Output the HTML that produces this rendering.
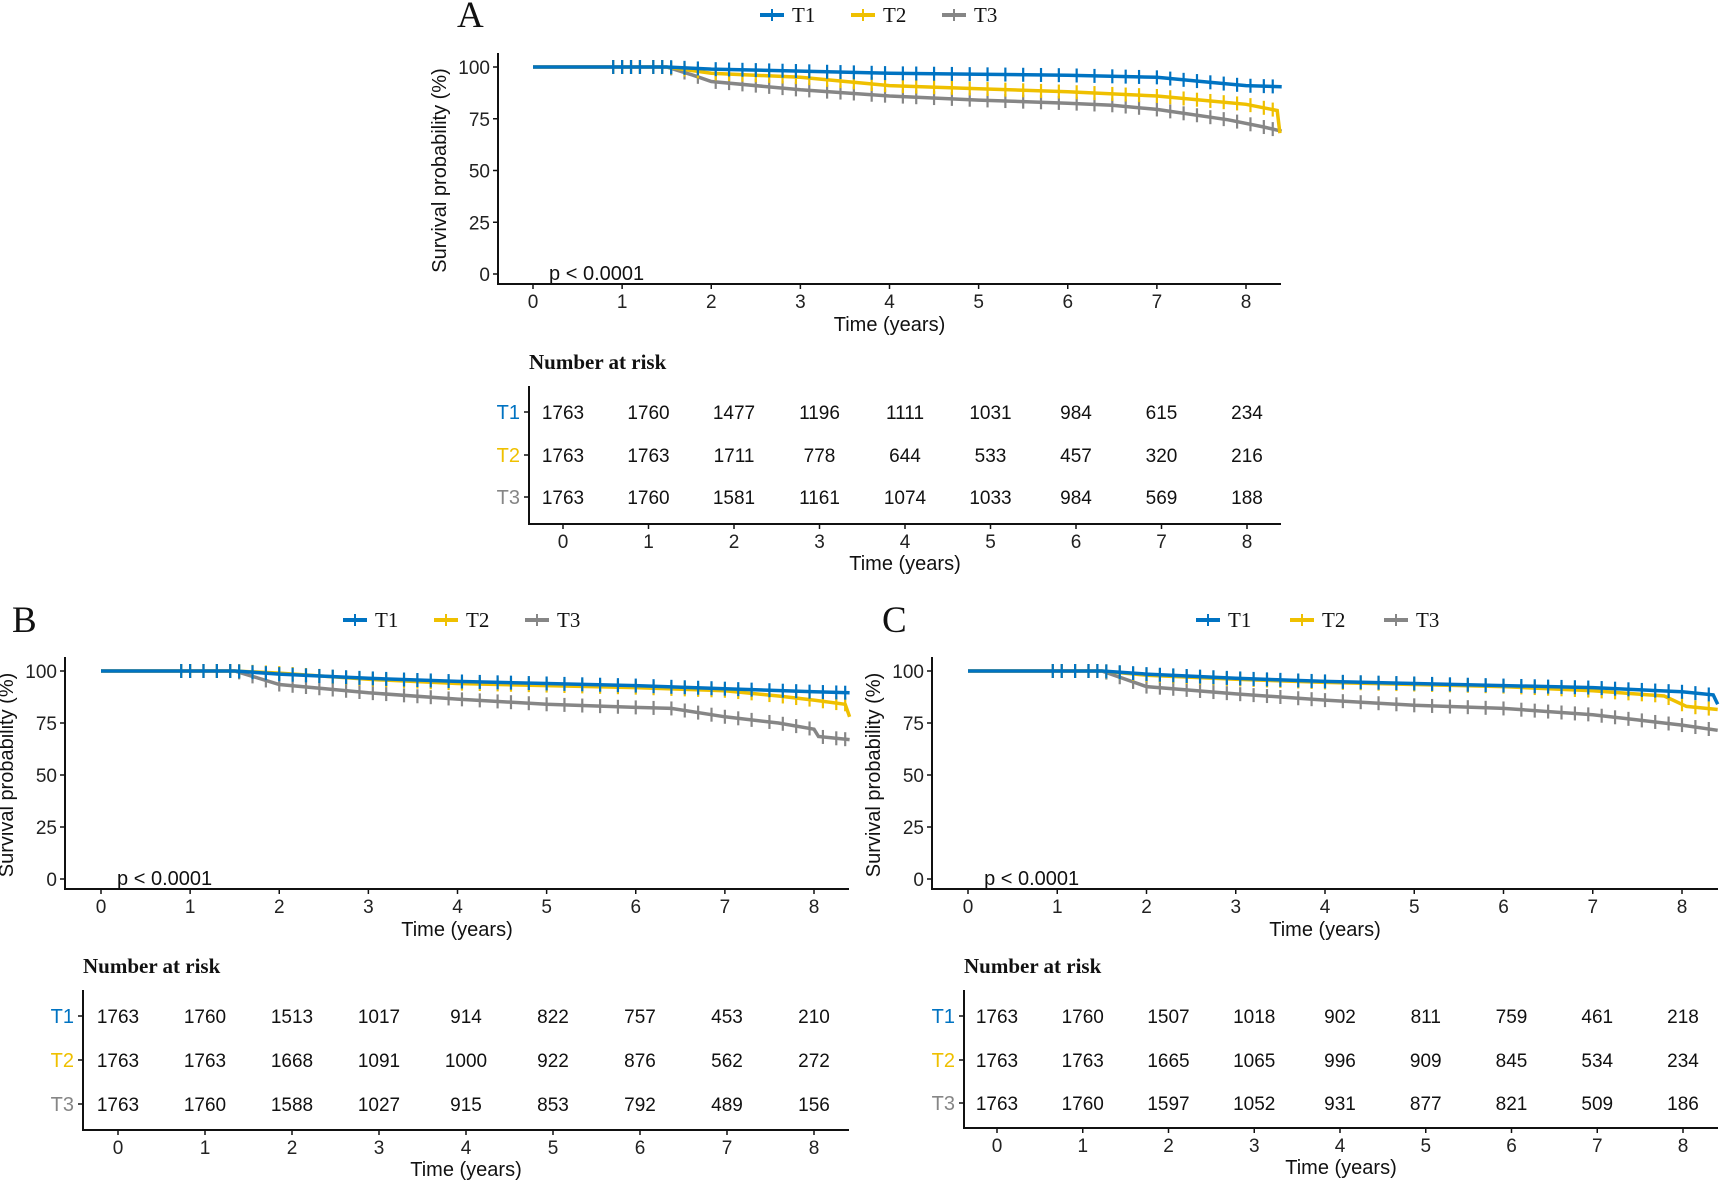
<!DOCTYPE html>
<html><head><meta charset="utf-8"><style>
html,body{margin:0;padding:0;background:#fff;}
svg{display:block;}
.tk{font-family:"Liberation Sans",sans-serif;font-size:19px;fill:#222;}
.tt{font-family:"Liberation Sans",sans-serif;font-size:20px;fill:#111;}
.nm{font-family:"Liberation Sans",sans-serif;font-size:19px;fill:#111;}
.sf{font-family:"Liberation Serif",serif;fill:#111;}
</style></head><body>
<svg id="fig" width="1720" height="1182" viewBox="0 0 1720 1182" xmlns="http://www.w3.org/2000/svg"></svg>
<script>
const groups=["T1","T2","T3"];
const colors=["#0073C2","#EFC000","#868686"];
const xTicks=[0,1,2,3,4,5,6,7,8];
const yTicks=[0,25,50,75,100];
// Panel A
const aT1=[[0,100],[1.5,100],[2,99],[3,98],[4,97],[5,96.5],[6,96],[7,95],[7.5,93],[8,91],[8.4,90.5]];
const aT2=[[0,100],[1.5,100],[2,97],[3,95],[4,91],[5,89.5],[6,88],[7,86],[7.5,84],[8,82],[8.35,79],[8.38,68]];
const aT3=[[0,100],[1.5,100],[1.8,96],[2,93],[3,89],[4,86],[5,84],[6,82.5],[6.5,81.5],[7,79.5],[7.8,74.5],[8.2,71],[8.4,69]];
const aRisk=[[1763,1760,1477,1196,1111,1031,984,615,234],[1763,1763,1711,778,644,533,457,320,216],[1763,1760,1581,1161,1074,1033,984,569,188]];
// Panel B
const bT1=[[0,100],[1.5,100],[2,98.5],[3,96.5],[4,95],[5,94],[6,93],[7,91.5],[8,90],[8.4,89.5]];
const bT2=[[0,100],[1.5,100],[2,99],[3,96],[4,94],[5,93],[6,92],[7,90.5],[7.6,88],[8,86],[8.35,84],[8.4,78]];
const bT3=[[0,100],[1.5,100],[2,93.5],[3,89.5],[4,86.5],[5,84],[6,82.5],[6.4,82],[7,78],[7.6,75],[8,72],[8.05,68.5],[8.4,67]];
const bRisk=[[1763,1760,1513,1017,914,822,757,453,210],[1763,1763,1668,1091,1000,922,876,562,272],[1763,1760,1588,1027,915,853,792,489,156]];
// Panel C
const cT1=[[0,100],[1.5,100],[2,98.5],[3,96.5],[4,95],[5,94],[6,93],[7,92],[8,90],[8.35,88.5],[8.4,84]];
const cT2=[[0,100],[1.5,100],[2,98],[3,96],[4,94.5],[5,93.5],[6,92.5],[7,90.5],[7.8,88],[8.05,83],[8.4,81.5]];
const cT3=[[0,100],[1.5,100],[2,92.5],[3,89],[4,86],[5,83.5],[6,82],[7,79],[7.5,76.5],[8,74],[8.4,71.5]];
const cRisk=[[1763,1760,1507,1018,902,811,759,461,218],[1763,1763,1665,1065,996,909,845,534,234],[1763,1760,1597,1052,931,877,821,509,186]];
// censor times (shared per panel)
const censA=[0.9,1.0,1.1,1.2,1.35,1.45,1.55,1.7,1.85,2.05,2.2,2.35,2.5,2.65,2.8,2.95,3.1,3.3,3.45,3.6,3.8,3.95,4.15,4.3,4.5,4.7,4.9,5.1,5.3,5.5,5.7,5.9,6.1,6.3,6.5,6.65,6.8,7.0,7.15,7.3,7.45,7.6,7.75,7.9,8.05,8.2,8.3];
const censB=[0.9,1.0,1.15,1.3,1.45,1.55,1.7,1.85,2.0,2.15,2.3,2.45,2.6,2.75,2.9,3.05,3.2,3.4,3.55,3.7,3.9,4.05,4.25,4.45,4.6,4.8,5.0,5.2,5.4,5.6,5.8,6.0,6.2,6.4,6.55,6.7,6.85,7.0,7.15,7.3,7.5,7.65,7.8,7.95,8.1,8.25,8.35];
const censC=[0.95,1.05,1.2,1.35,1.45,1.55,1.7,1.85,2.0,2.15,2.3,2.45,2.6,2.75,2.9,3.05,3.2,3.35,3.5,3.7,3.85,4.0,4.2,4.4,4.6,4.8,5.0,5.2,5.4,5.6,5.8,6.0,6.2,6.35,6.5,6.65,6.8,6.95,7.1,7.25,7.4,7.55,7.7,7.85,8.0,8.15,8.3];

const NS="http://www.w3.org/2000/svg";
const svg=document.getElementById('fig');
function mk(tag,attrs,parent,text){const e=document.createElementNS(NS,tag);for(const k in attrs)e.setAttribute(k,attrs[k]);if(text!==undefined)e.textContent=text;(parent||svg).appendChild(e);return e;}
function survAt(curve,t){for(let i=curve.length-1;i>=0;i--){if(curve[i][0]<=t){if(i===curve.length-1)return curve[i][1];const a=curve[i],b=curve[i+1];return a[1]+(b[1]-a[1])*(t-a[0])/(b[0]-a[0]);}}return 100;}

function panel(P,curves,risk,cens){
  const g=mk('g',{});
  
  
  const xs=t=>P.x0+(P.x8-P.x0)*t/8;
  const ys=v=>P.y0+(P.y100-P.y0)*v/100;
  const lab=mk('text',{x:P.labX,y:P.legY+12,class:'sf','font-size':37},g,P.label);
  
  groups.forEach((n,i)=>{
    const lx=P.legX+i*(P.legGap);
    const lg=mk('g',{},g);
    
    
    mk('line',{x1:lx,y1:P.legY,x2:lx+24,y2:P.legY,stroke:colors[i],'stroke-width':4},lg);
    mk('line',{x1:lx+12,y1:P.legY-6,x2:lx+12,y2:P.legY+6,stroke:colors[i],'stroke-width':2},lg);
    mk('text',{x:lx+32,y:P.legY+7,class:'sf','font-size':21},lg,n);
  });
  const ax=mk('path',{d:`M${P.ax},${P.y100-14} V${P.axY} H${P.xend}`,fill:'none',stroke:'#111','stroke-width':2},g);
  
  yTicks.forEach(v=>{
    mk('line',{x1:P.ax-5,y1:ys(v),x2:P.ax,y2:ys(v),stroke:'#111','stroke-width':1.5},g);
    const t=mk('text',{x:P.ax-8,y:ys(v)+7,class:'tk','text-anchor':'end'},g,String(v));
    
  });
  xTicks.forEach(v=>{
    mk('line',{x1:xs(v),y1:P.axY,x2:xs(v),y2:P.axY+5,stroke:'#111','stroke-width':1.5},g);
    const t=mk('text',{x:xs(v),y:P.axY+24,class:'tk','text-anchor':'middle'},g,String(v));
    
  });
  const xt=mk('text',{x:(P.ax+P.xend)/2,y:P.axY+47,class:'tt','text-anchor':'middle'},g,'Time (years)');
  
  const cy=(P.y100+P.y0)/2;
  const yt=mk('text',{x:P.ax-52,y:cy,class:'tt','text-anchor':'middle',transform:`rotate(-90 ${P.ax-52} ${cy})`},g,'Survival probability (%)');
  
  const pv=mk('text',{x:xs(0.18),y:P.y0+6,class:'tt'},g,'p < 0.0001');
  
  [2,1,0].forEach(i=>{
    const c=curves[i];
    const d=c.map((p,k)=>(k?'L':'M')+xs(p[0]).toFixed(1)+','+ys(p[1]).toFixed(1)).join(' ');
    const path=mk('path',{d:d,fill:'none',stroke:colors[i],'stroke-width':3.5},g);
    
    
    const cg=mk('g',{stroke:colors[i],'stroke-width':2.2},g);
    
    
    cens.forEach(t=>{const y=ys(survAt(c,t));mk('line',{x1:xs(t),y1:y-7,x2:xs(t),y2:y+7},cg);});
  });
  const T=P.t;
  const tx=t=>T.c0+(T.c8-T.c0)*t/8;
  const nt=mk('text',{x:T.ax,y:T.titleY,class:'sf','font-size':21,'font-weight':'bold'},g,'Number at risk');
  
  mk('path',{d:`M${T.ax},${T.rows[0]-26} V${T.axY} H${P.xend}`,fill:'none',stroke:'#111','stroke-width':2},g);
  groups.forEach((n,i)=>{
    mk('line',{x1:T.ax-5,y1:T.rows[i],x2:T.ax,y2:T.rows[i],stroke:'#111','stroke-width':1.5},g);
    const rl=mk('text',{x:T.ax-9,y:T.rows[i]+7,class:'nm','text-anchor':'end',style:'fill:'+colors[i]+';font-size:20px'},g,n);
    
    risk[i].forEach((v,k)=>{
      const c=mk('text',{x:tx(k),y:T.rows[i]+7,class:'nm','text-anchor':'middle'},g,String(v));
      
    });
  });
  xTicks.forEach(v=>{
    mk('line',{x1:tx(v),y1:T.axY,x2:tx(v),y2:T.axY+5,stroke:'#111','stroke-width':1.5},g);
    mk('text',{x:tx(v),y:T.axY+24,class:'tk','text-anchor':'middle'},g,String(v));
  });
  const tt=mk('text',{x:(T.ax+P.xend)/2,y:T.axY+46,class:'tt','text-anchor':'middle'},g,'Time (years)');
  
}
panel({label:'A',labX:457,legY:15,legX:760,legGap:91,ax:498,x0:533,x8:1246,xend:1281,y100:67,y0:274,axY:284,
  t:{ax:529,titleY:369,rows:[412,455,497],axY:524,c0:563,c8:1247}},[aT1,aT2,aT3],aRisk,censA);
panel({label:'B',labX:12,legY:620,legX:343,legGap:91,ax:65,x0:101,x8:814,xend:849,y100:671,y0:879,axY:889,
  t:{ax:83,titleY:973,rows:[1016,1060,1104],axY:1130,c0:118,c8:814}},[bT1,bT2,bT3],bRisk,censB);
panel({label:'C',labX:882,legY:620,legX:1196,legGap:94,ax:932,x0:968,x8:1682,xend:1718,y100:671,y0:879,axY:889,
  t:{ax:964,titleY:973,rows:[1016,1060,1103],axY:1128,c0:997,c8:1683}},[cT1,cT2,cT3],cRisk,censC);
</script>
</body></html>
